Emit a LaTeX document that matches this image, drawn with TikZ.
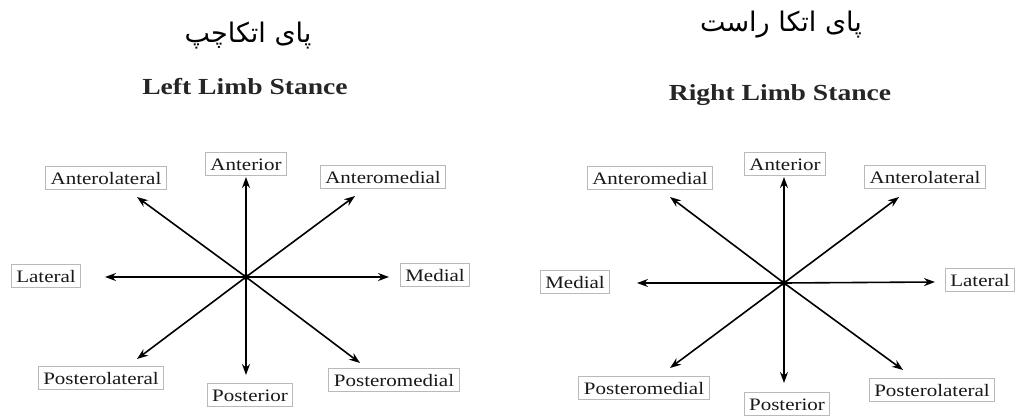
\documentclass[tikz,border=0pt]{standalone}
\usepackage{fontspec}
\setmainfont{Liberation Serif}[FakeStretch=1.2]
\newfontfamily\farsifont[Script=Arabic]{DejaVu Sans}
\TeXXeTstate=1
\usetikzlibrary{arrows.meta}
\tikzstyle{dirbox} = [rectangle, draw=gray!55, line width=1pt, fill=white, inner xsep=5pt, inner ysep=0pt, minimum height=23pt, text height=12pt, text depth=0pt, font=\fontsize{17.5}{20}\selectfont, text=black!90]
\tikzstyle{arrow} = [line width=1.6pt, ->, >={Stealth[length=11pt, width=8pt]}]
\tikzstyle{title} = [font=\bfseries\fontsize{23}{26}\selectfont, text=black!85]
\tikzstyle{farsi} = [font=\farsifont\fontsize{27}{32}\selectfont]
\begin{document}
\begin{tikzpicture}[x=1pt, y=-1pt]
    \useasboundingbox (0,0) rectangle (1017,417);
    % left limb
    \node(lfa)[farsi] at (248,36) {\beginR پای اتکاچپ\endR};
    \node(lttl)[title] at (245,87) {Left Limb Stance};
    \coordinate (lc) at (246,277);
    \node(lant)[dirbox] at (246,164) {Anterior};
    \node(lal)[dirbox] at (106,178) {Anterolateral};
    \node(lam)[dirbox] at (383,177) {Anteromedial};
    \node(llat)[dirbox] at (46,276) {Lateral};
    \node(lmed)[dirbox] at (435,275) {Medial};
    \node(lpl)[dirbox] at (101,378) {Posterolateral};
    \node(lpost)[dirbox] at (250,395) {Posterior};
    \node(lpm)[dirbox] at (394,380) {Posteromedial};
    \coordinate (lant-t) at (246,177);
    \coordinate (lal-t) at (137,197);
    \coordinate (lam-t) at (355,196);
    \coordinate (llat-t) at (105,277);
    \coordinate (lmed-t) at (389,277);
    \coordinate (lpl-t) at (137,359);
    \coordinate (lpost-t) at (246,375);
    \coordinate (lpm-t) at (360,363);
    \draw[arrow](lc)--(lant-t);
    \draw[arrow](lc)--(lal-t);
    \draw[arrow](lc)--(lam-t);
    \draw[arrow](lc)--(llat-t);
    \draw[arrow](lc)--(lmed-t);
    \draw[arrow](lc)--(lpl-t);
    \draw[arrow](lc)--(lpost-t);
    \draw[arrow](lc)--(lpm-t);
    \fill (lc) circle (3pt);
    % right limb
    \node(rfa)[farsi] at (781,25) {\beginR پای اتکا راست\endR};
    \node(rttl)[title] at (780,95) {Right Limb Stance};
    \coordinate (rc) at (784,283);
    \node(rant)[dirbox] at (785,164) {Anterior};
    \node(ram)[dirbox] at (650,178) {Anteromedial};
    \node(ral)[dirbox] at (925,177) {Anterolateral};
    \node(rmed)[dirbox] at (575,282) {Medial};
    \node(rlat)[dirbox] at (980,280) {Lateral};
    \node(rpm)[dirbox] at (644,388) {Posteromedial};
    \node(rpost)[dirbox] at (787,404) {Posterior};
    \node(rpl)[dirbox] at (932,390) {Posterolateral};
    \coordinate (rant-t) at (784,177);
    \coordinate (ram-t) at (670,197);
    \coordinate (ral-t) at (899,197);
    \coordinate (rmed-t) at (637,283);
    \coordinate (rlat-t) at (935,282);
    \coordinate (rpm-t) at (670,368);
    \coordinate (rpost-t) at (784,383);
    \coordinate (rpl-t) at (903,370);
    \draw[arrow](rc)--(rant-t);
    \draw[arrow](rc)--(ram-t);
    \draw[arrow](rc)--(ral-t);
    \draw[arrow](rc)--(rmed-t);
    \draw[arrow](rc)--(rlat-t);
    \draw[arrow](rc)--(rpm-t);
    \draw[arrow](rc)--(rpost-t);
    \draw[arrow](rc)--(rpl-t);
    \fill (rc) circle (3pt);
\end{tikzpicture}
\end{document}
